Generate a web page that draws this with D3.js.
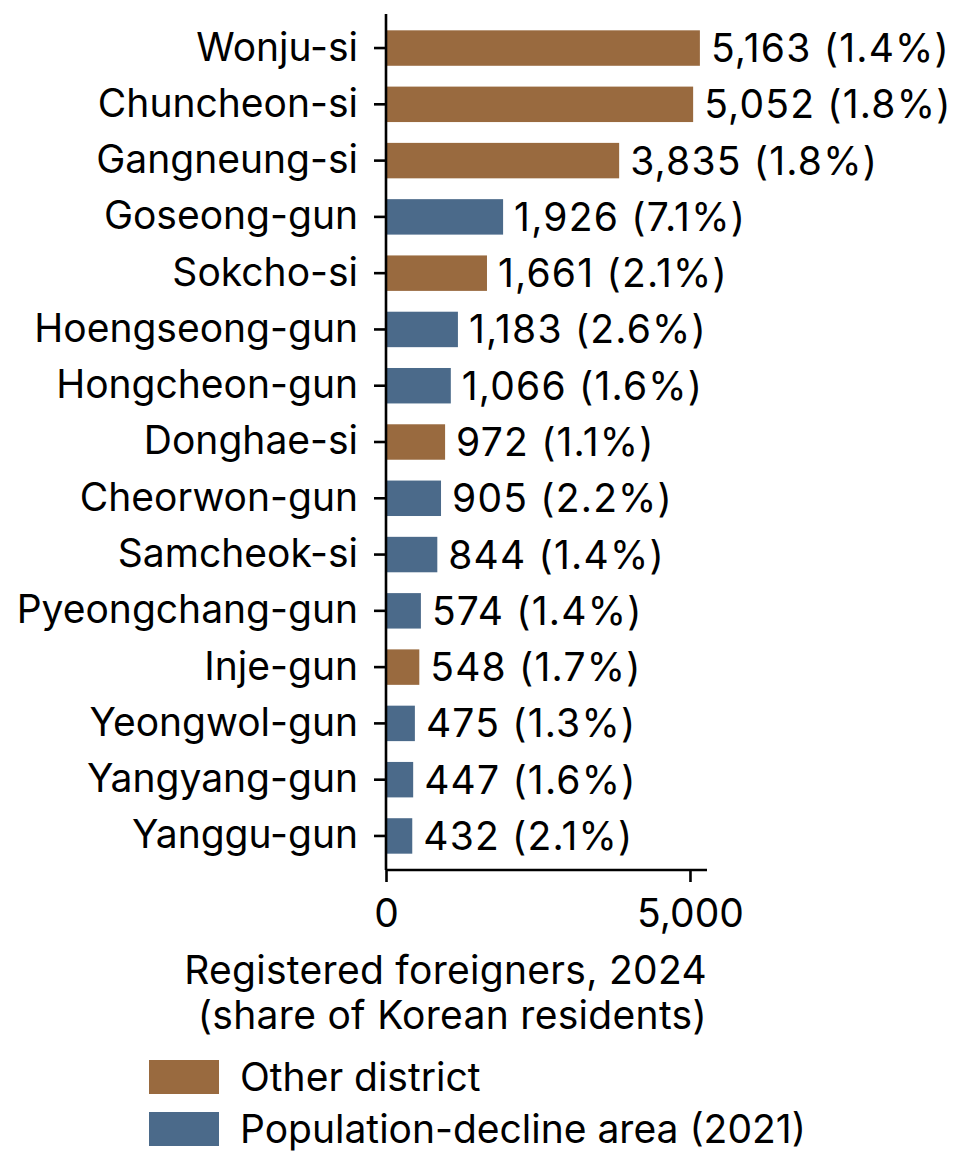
<!DOCTYPE html>
<html>
<head>
<meta charset="utf-8">
<script src="https://cdn.jsdelivr.net/npm/d3@7"></script>
<style>
  html, body { margin: 0; padding: 0; background: #fff; }
  svg text { font-family: Inter, "Noto Sans", sans-serif; fill: #000; }
</style>
</head>
<body>
<div id="chart"></div>
<script>
const districts = [
    'Wonju-si', 'Chuncheon-si', 'Gangneung-si', 'Goseong-gun', 'Sokcho-si',
    'Hoengseong-gun', 'Hongcheon-gun', 'Donghae-si', 'Cheorwon-gun', 'Samcheok-si',
    'Pyeongchang-gun', 'Inje-gun', 'Yeongwol-gun', 'Yangyang-gun', 'Yanggu-gun'
];
const foreigners = [5163, 5052, 3835, 1926, 1661, 1183, 1066, 972, 905, 844, 574, 548, 475, 447, 432];
const shares = [1.4, 1.8, 1.8, 7.1, 2.1, 2.6, 1.6, 1.1, 2.2, 1.4, 1.4, 1.7, 1.3, 1.6, 2.1];
const groups = ['other', 'other', 'other', 'decline', 'other', 'decline', 'decline', 'other',
    'decline', 'decline', 'decline', 'other', 'decline', 'decline', 'decline'];
const xTicks = [0, 5000];
const legendKeys = ['other', 'decline'];
const legendLabels = ['Other district', 'Population-decline area (2021)'];

const colors = { other: '#996a3f', decline: '#4b6a8a' };

const width = 962, height = 1167;
const plot = { left: 386, right: 707, top: 14, bottom: 870 };
const fontSize = '39px';

const rows = districts.map((d, i) => ({
    name: d, value: foreigners[i], share: shares[i], group: groups[i]
}));

const svg = d3.select('#chart')
    .append('svg')
    .attr('width', width)
    .attr('height', height);

const x = d3.scaleLinear()
    .domain([0, 5280])
    .range([plot.left, plot.right]);

const y = d3.scaleBand()
    .domain(districts)
    .range([plot.top, plot.bottom])
    .paddingInner(0.37)
    .paddingOuter(0.29);

// bars
svg.selectAll('rect.bar')
    .data(rows)
    .enter()
    .append('rect')
    .attr('class', 'bar')
    .attr('x', x(0))
    .attr('y', d => y(d.name))
    .attr('width', d => x(d.value) - x(0))
    .attr('height', y.bandwidth())
    .attr('fill', d => colors[d.group]);

// value labels
const fmt = d3.format(',');
svg.selectAll('text.value')
    .data(rows)
    .enter()
    .append('text')
    .attr('class', 'value')
    .attr('x', d => x(d.value) + 11)
    .attr('y', d => y(d.name) + y.bandwidth() / 2)
    .attr('dy', '0.36em')
    .style('font-size', fontSize)
    .style('letter-spacing', '1.2px')
    .text(d => `${fmt(d.value)} (${d.share.toFixed(1)}%)`);

// axes
const yAxis = svg.append('g')
    .attr('transform', `translate(${plot.left},0)`)
    .call(d3.axisLeft(y).tickSize(12).tickPadding(16).tickSizeOuter(0));

const xAxis = svg.append('g')
    .attr('transform', `translate(0,${plot.bottom})`)
    .call(d3.axisBottom(x).tickValues(xTicks).tickFormat(fmt).tickSize(12).tickPadding(17).tickSizeOuter(0));

[yAxis, xAxis].forEach(g => {
    g.selectAll('path, line').attr('stroke', '#000').attr('stroke-width', 2.6);
    g.selectAll('text').style('font-size', fontSize).attr('fill', '#000')
        .style('font-family', 'Inter, "Noto Sans", sans-serif');
});
xAxis.select('.domain').attr('d', `M${plot.left},0H${plot.right}`);
yAxis.select('.domain').attr('d', `M0,${plot.top}V${plot.bottom}`);

// axis title
const title = svg.append('text')
    .attr('text-anchor', 'end')
    .style('font-size', fontSize)
    .style('letter-spacing', '0.3px');
title.append('tspan').attr('x', plot.right).attr('y', 984).text('Registered foreigners, 2024');
title.append('tspan').attr('x', plot.right).attr('y', 1029).text('(share of Korean residents)');

// legend
const legend = svg.append('g')
    .attr('transform', 'translate(149,1060)');

const item = legend.selectAll('g.legend-item')
    .data(legendKeys)
    .enter()
    .append('g')
    .attr('class', 'legend-item')
    .attr('transform', (d, i) => `translate(0,${i * 52})`);

item.append('rect')
    .attr('width', 70)
    .attr('height', 34)
    .attr('fill', d => colors[d]);

item.append('text')
    .attr('x', 91)
    .attr('y', 17)
    .attr('dy', '0.36em')
    .style('font-size', fontSize)
    .text((d, i) => legendLabels[i]);
</script>
</body>
</html>
